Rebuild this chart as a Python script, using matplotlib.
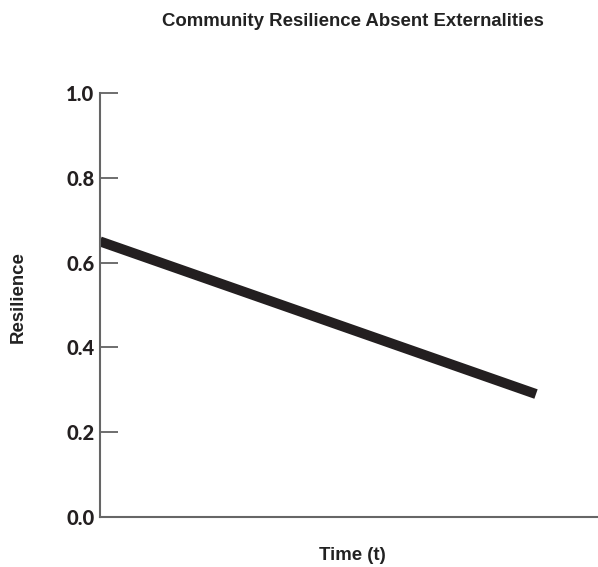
import numpy as np
import matplotlib
matplotlib.use('Agg')
import matplotlib.pyplot as plt

# data
time = [0, 10]
resilience = [0.65, 0.29]
yticks = [0.0, 0.2, 0.4, 0.6, 0.8, 1.0]

fig = plt.figure(figsize=(5.98, 5.67), dpi=100)
ax = fig.add_axes([100/598, 50/567, 498/598, 424/567])

ax.plot(time, resilience, color='#231f20', lw=7.2, solid_capstyle='butt')

ax.set_xlim(0, 498/436*10)
ax.set_ylim(0, 1.0)
ax.set_xticks([])
ax.set_yticks(yticks)
ax.set_yticklabels(['%.1f' % v for v in yticks], fontfamily='Lato',
                   fontweight='black', fontsize=14.5, color='#231f20')
ax.tick_params(axis='y', direction='in', length=13, width=1.2, color='#555555', pad=4)

for s in ['top', 'right']:
    ax.spines[s].set_visible(False)
for s in ['left', 'bottom']:
    ax.spines[s].set_color('#666666')
    ax.spines[s].set_linewidth(1.5)

fig.text(353/598, 1 - 22/567, 'Community Resilience Absent Externalities',
         ha='center', va='center', fontfamily='Liberation Sans',
         fontweight='bold', fontsize=13.4, color='#222222')
fig.text(352/598, 1 - 556/567, 'Time (t)', ha='center', va='center',
         fontfamily='Liberation Sans', fontweight='bold', fontsize=13.4, color='#222222')
fig.text(18/598, 1 - 297/567, 'Resilience', ha='center', va='center', rotation=90,
         fontfamily='Liberation Sans', fontweight='bold', fontsize=13.4, color='#222222')

fig.savefig('out.png', dpi=100)
